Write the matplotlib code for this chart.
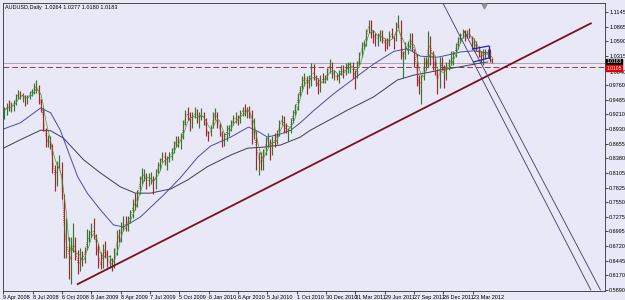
import numpy as np
import pandas as pd
import matplotlib
matplotlib.use("Agg")
import matplotlib.pyplot as plt
from matplotlib.transforms import blended_transform_factory

plt.rcParams['font.family'] = ['Liberation Sans', 'DejaVu Sans']

# ---- weekly OHLC (AUDUSD, Apr 2008 - May 2012) ----
first_open = 0.915
closes = [
    # 2008
    .928, .938, .935, .937, .942, .955, .962, .955, .957, .944, .955, .962, .965, .975, .975, .948,
    .935, .895, .865, .875, .862, .815, .800, .825, .830, .765, .665, .690, .630, .665, .685, .655,
    .625, .655, .645, .665, .690, .690,
    # 2009
    .710, .690, .670, .640, .635, .670, .660, .640, .640, .635, .660, .695, .690, .710, .715, .710,
    .725, .730, .755, .750, .775, .800, .805, .810, .790, .800, .800, .785, .815, .820, .835, .845,
    .835, .835, .845, .850, .865, .875, .870, .875, .905, .925, .920, .900, .920, .925, .915, .915,
    .920, .915, .885, .880,
    # 2010
    .895, .920, .925, .905, .885, .870, .880, .895, .895, .905, .915, .915, .910, .925, .930, .925,
    .930, .925, .880, .885, .835, .840, .820, .850, .875, .875, .850, .875, .870, .890, .905, .915,
    .895, .890, .890, .910, .925, .935, .960, .970, .990, .990, .980, .980, 1.010, .990, .985, .965,
    .990, .985, .990, 1.005, 1.020,
    # 2011
    .995, .995, .990, .995, 1.010, .995, 1.015, 1.015, 1.015, 1.000, .990, 1.020, 1.035, 1.055, 1.055, 1.080,
    1.095, 1.075, 1.070, 1.060, 1.070, 1.075, 1.060, 1.055, 1.050, 1.075, 1.070, 1.065, 1.090, 1.100, 1.030, 1.030,
    1.050, 1.055, 1.070, 1.045, 1.035, .980, .975, .990, 1.025, 1.015, 1.075, 1.030, 1.025, 1.000, .970, 1.025,
    1.010, .990, 1.015, 1.020,
    # 2012
    1.025, 1.035, 1.050, 1.065, 1.070, 1.075, 1.070, 1.075, 1.070, 1.055, 1.055, 1.045, 1.035, 1.025, 1.040, 1.035,
    1.040, 1.020, 1.0183,
]
highs = [
    .934, .942, .948, .945, .948, .960, .967, .966, .962, .958, .958, .966, .968, .980, .985, .976,
    .950, .935, .895, .882, .880, .865, .825, .832, .845, .830, .770, .725, .690, .690, .715, .690,
    .665, .668, .663, .670, .705, .702,
    .715, .725, .695, .675, .660, .675, .682, .665, .655, .650, .668, .702, .705, .718, .728, .728,
    .728, .740, .760, .772, .778, .805, .820, .818, .810, .810, .812, .805, .818, .830, .838, .850,
    .850, .842, .850, .858, .870, .880, .880, .885, .910, .930, .934, .925, .925, .935, .932, .925,
    .933, .925, .915, .890,
    .900, .925, .933, .925, .905, .890, .885, .900, .900, .910, .920, .925, .920, .930, .935, .940,
    .935, .937, .930, .915, .890, .850, .850, .855, .878, .885, .875, .880, .885, .892, .910, .920,
    .918, .905, .895, .915, .930, .940, .962, .975, .993, 1.000, .993, .995, 1.018, 1.017, .995, .990,
    .995, 1.000, .995, 1.008, 1.025,
    1.020, 1.005, 1.000, 1.005, 1.015, 1.015, 1.018, 1.020, 1.020, 1.020, 1.005, 1.022, 1.038, 1.058, 1.062, 1.083,
    1.100, 1.100, 1.080, 1.075, 1.075, 1.080, 1.080, 1.065, 1.065, 1.078, 1.085, 1.070, 1.095, 1.108, 1.100, 1.040,
    1.058, 1.060, 1.075, 1.075, 1.045, 1.035, .995, .995, 1.030, 1.030, 1.078, 1.070, 1.040, 1.030, 1.005, 1.030,
    1.030, 1.015, 1.020, 1.025,
    1.040, 1.040, 1.055, 1.068, 1.075, 1.080, 1.080, 1.080, 1.085, 1.070, 1.065, 1.060, 1.050, 1.040, 1.045, 1.045,
    1.045, 1.045, 1.0277,
]
lows = [
    .912, .920, .928, .925, .928, .938, .950, .950, .945, .937, .940, .950, .955, .960, .962, .940,
    .925, .890, .860, .860, .855, .810, .776, .785, .820, .760, .650, .650, .610, .600, .660, .645,
    .620, .625, .635, .640, .665, .680,
    .690, .685, .655, .630, .628, .630, .650, .632, .630, .625, .630, .655, .680, .680, .700, .700,
    .700, .715, .725, .740, .745, .770, .790, .795, .780, .785, .790, .770, .780, .810, .815, .830,
    .825, .815, .830, .835, .848, .860, .860, .855, .875, .900, .910, .890, .895, .915, .905, .895,
    .910, .900, .880, .870,
    .880, .895, .910, .895, .880, .860, .862, .870, .880, .890, .900, .905, .900, .905, .918, .918,
    .915, .915, .865, .875, .815, .807, .815, .815, .845, .860, .835, .845, .860, .865, .880, .900,
    .885, .885, .870, .885, .905, .920, .930, .955, .965, .975, .960, .970, .975, .985, .975, .960,
    .963, .980, .980, .985, 1.000,
    .990, .985, .985, .980, .995, .990, .995, 1.000, 1.000, .990, .968, .990, 1.015, 1.030, 1.045, 1.050,
    1.075, 1.065, 1.055, 1.050, 1.050, 1.060, 1.055, 1.040, 1.045, 1.050, 1.065, 1.045, 1.060, 1.085, 1.025, .990,
    1.025, 1.035, 1.045, 1.040, 1.010, .975, .960, .940, .985, 1.005, 1.010, 1.015, 1.005, .995, .960, .970,
    1.005, .970, .985, 1.005,
    1.015, 1.015, 1.030, 1.045, 1.055, 1.065, 1.060, 1.065, 1.065, 1.045, 1.045, 1.040, 1.030, 1.020, 1.015, 1.025,
    1.030, 1.020, 1.0180,
]

# ---- moving-average curves (bar index, price) ----
blue_ma_bars = [-7, 37, 81, 103, 124, 140, 162, 183, 212, 240, 262, 299, 349, 386, 424, 452, 496, 535, 557,
                576, 605, 627, 648, 677, 721, 764, 808, 852, 882, 910, 948, 969, 998, 1026, 1057]
blue_ma_vals = [.891, .905, .933, .924, .891, .854, .803, .772, .740, .712, .708, .727, .768, .801, .840, .861,
                .878, .897, .888, .878, .884, .891, .905, .928, .960, .988, 1.016, 1.040, 1.045, 1.031, 1.029,
                1.033, 1.039, 1.041, 1.037]
gray_ma_bars = [-7, 37, 81, 103, 131, 175, 212, 255, 288, 321, 365, 402, 445, 496, 533, 568, 605, 648,
                670, 751, 808, 860, 895, 932, 954, 998, 1041, 1057]
gray_ma_vals = [.854, .873, .891, .890, .876, .835, .810, .784, .772, .772, .780, .797, .822, .844, .857,
                .859, .863, .878, .891, .929, .954, .986, .995, 1.001, 1.005, 1.011, 1.018, 1.020]

# ---- drawn objects ----
trend_bars = [162, 1282]
trend_vals = [0.600, 1.093]
chanA_bars = [958, 1282]
chanA_vals = [1.1334, 0.589]
chanB_bars = [1004, 1303]
chanB_vals = [1.0805, 0.589]
reg_up_bars = [1024, 1059]
reg_up_vals = [1.0445, 1.0502]
reg_lo_bars = [1026, 1059]
reg_lo_vals = [1.0200, 1.0275]
bid_price = 1.0183
level_price = 1.0105
shift_marker_bar = 1048

x_tick_bars = [0, 64, 128, 192, 256, 320, 384, 448, 512, 576, 640, 704, 768, 832, 896, 960, 1024]
x_tick_labels = ["9 Apr 2008", "8 Jul 2008", "6 Oct 2008", "8 Jan 2009", "8 Apr 2009", "7 Jul 2009",
                 "5 Oct 2009", "6 Jan 2010", "6 Apr 2010", "5 Jul 2010", "1 Oct 2010", "30 Dec 2010",
                 "31 Mar 2011", "29 Jun 2011", "27 Sep 2011", "26 Dec 2011", "23 Mar 2012"]
y_ticks = [1.1145, 1.0865, 1.0590, 1.0315, 1.0040, 0.9760, 0.9485, 0.9210, 0.8930, 0.8655, 0.8380,
           0.8105, 0.7825, 0.7550, 0.7275, 0.6995, 0.6720, 0.6445, 0.6170, 0.5890]

title = "AUDUSD,Daily  1.0264 1.0277 1.0180 1.0183"

bg = "#E8E8F7"
fig = plt.figure(figsize=(6.25, 3.0), dpi=100, facecolor=bg)
ax = fig.add_axes([3 / 625, 9 / 300, 602 / 625, 288 / 300], facecolor=bg)

n = len(closes)
pos = 5 * np.arange(n) + 2
opens = [first_open] + closes[:-1]
cols = ["#2E7A2E" if c >= o else "#A02828" for c, o in zip(closes, opens)]
ax.vlines(pos, lows, highs, colors=cols, linewidth=0.85, zorder=3)

s = pd.Series(closes)
ax.plot(pos, s.rolling(4, min_periods=1).mean(), color="#33A033", lw=0.5, zorder=4)
ax.plot(pos, s.rolling(2, min_periods=1).mean(), color="#C03030", lw=0.5, ls=(0, (1.5, 1.5)), zorder=4)

ax.plot(blue_ma_bars, blue_ma_vals, color="#4A4AA8", lw=0.7, zorder=2)
ax.plot(gray_ma_bars, gray_ma_vals, color="#3C3C50", lw=0.7, zorder=2)

ax.axhline(bid_price, color="#A8A8B8", lw=0.7, zorder=1)
ax.axhline(level_price, color="#B03040", lw=0.7, ls=(0, (6, 3)), zorder=1)

ax.plot(trend_bars, trend_vals, color="#7A1020", lw=1.3, zorder=5)
ax.plot(chanA_bars, chanA_vals, color="#3A3A6A", lw=0.6, zorder=5)
ax.plot(chanB_bars, chanB_vals, color="#3A3A6A", lw=0.6, zorder=5)
ax.plot(reg_up_bars, reg_up_vals, color="#2020C0", lw=0.9, zorder=6)
ax.plot(reg_lo_bars, reg_lo_vals, color="#2020C0", lw=0.9, zorder=6)
ax.plot([reg_up_bars[1], reg_lo_bars[1]], [reg_up_vals[1], reg_lo_vals[1]], color="#2020C0", lw=0.9, zorder=6)

ax.set_xlim(-1, 1313)
ax.set_ylim(0.587, 1.1315)

# chart-shift marker at the top edge
trx = blended_transform_factory(ax.transData, ax.transAxes)
ax.plot([shift_marker_bar], [0.99], marker="v", ms=3.5, color="#909098", transform=trx, zorder=7,
        clip_on=False, ls="none")

ax.set_xticks(x_tick_bars)
ax.set_xticklabels(x_tick_labels, fontsize=4, ha="left")
ax.tick_params(axis="x", length=2, width=0.5, pad=1, colors="#000000")
ax.yaxis.tick_right()
ax.set_yticks(y_ticks)
ylabels = [f"{v:.4f}" for v in y_ticks]
ax.set_yticklabels(ylabels, fontsize=4)
ax.tick_params(axis="y", length=2, width=0.5, pad=1)
# the 1.0040 label sits just under the red price box, as in the reference
for lab in ax.get_yticklabels():
    if lab.get_text() == "1.0040":
        lab.set_va("top")

for sp in ax.spines.values():
    sp.set_linewidth(0.6)
    sp.set_color("#303030")

ax.text(0.003, 0.993, title, transform=ax.transAxes, fontsize=4, va="top", ha="left")

tr = blended_transform_factory(ax.transAxes, ax.transData)
ax.text(1.002, bid_price + 0.002, "1.0183", transform=tr, fontsize=3.6, color="white", va="center", ha="left",
        bbox=dict(boxstyle="square,pad=0.1", fc="black", ec="black"), zorder=10, clip_on=False)
ax.text(1.002, level_price - 0.002, "1.0105", transform=tr, fontsize=3.6, color="white", va="center",
        ha="left", bbox=dict(boxstyle="square,pad=0.1", fc="#E00000", ec="#E00000"), zorder=10, clip_on=False)

fig.savefig("out.png", dpi=100, facecolor=bg)
